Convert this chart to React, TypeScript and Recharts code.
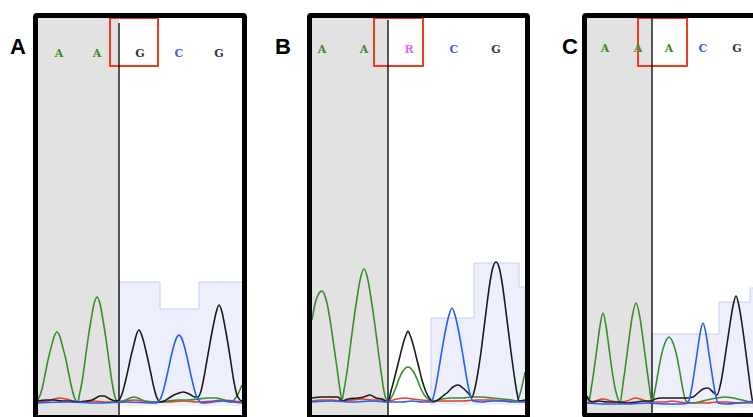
import React from 'react';
import { ComposedChart, Line, Area, Scatter, XAxis, YAxis, ReferenceArea, ReferenceLine } from 'recharts';

// ---------- Panel A ----------
const aBases = ['A', 'A', 'G', 'C', 'G'];
const aBasePos = [21, 59, 102, 141, 181];
const aGreen = [[0,3],[4,14],[7,28],[10,43],[13,55],[16,66],[19,71],[22,66],[25,55],[28,43],[31,28],[34,14],[37,4],[40,1],[41,6],[44,21],[47,42],[50,64],[53,83],[56,99],[59,106],[62,99],[65,83],[68,64],[71,42],[74,21],[77,6],[80,1],[84,2],[88,3],[92,5],[96,6],[100,5],[104,3],[110,1],[120,1],[130,2],[140,3],[150,3],[160,4],[170,5],[178,5],[186,3],[192,1],[196,3],[200,9],[204,18]];
const aBlack = [[0,2],[8,3],[16,3],[24,2],[32,2],[40,1],[48,2],[54,3],[58,5],[62,7],[66,7],[70,5],[74,3],[78,2],[81,3],[84,9],[87,20],[90,33],[93,47],[96,59],[98,67],[101,73],[104,67],[107,56],[110,43],[113,29],[116,15],[119,5],[122,1],[126,2],[131,5],[136,8],[141,10],[145,11],[149,10],[153,8],[157,6],[160,6],[163,12],[166,26],[169,43],[172,60],[175,76],[178,90],[181,98],[184,91],[187,76],[190,59],[193,40],[196,21],[199,8],[202,3],[204,2]];
const aBlue = [[0,0],[30,1],[60,0],[90,1],[118,0],[121,2],[124,8],[127,19],[130,32],[133,46],[136,58],[139,66],[141,68],[143,66],[146,58],[149,46],[152,32],[155,19],[158,8],[161,2],[164,0],[175,1],[185,2],[195,1],[204,0]];
const aRed = [[0,1],[10,2],[16,4],[22,5],[28,4],[36,2],[46,1],[56,2],[66,1],[76,1],[86,2],[96,3],[106,2],[116,1],[130,1],[145,2],[160,1],[175,2],[185,3],[195,2],[204,1]];
const aQual = [[81,-3],[81,121],[122,94],[161,121],[204,121]];

// ---------- Panel B ----------
const bBases = ['A', 'A', 'R', 'C', 'G'];
const bBasePos = [10, 52, 97, 142, 184];
const bGreen = [[0,82],[3,98],[6,107],[10,111],[13,106],[16,94],[19,76],[22,55],[25,34],[28,12],[30,2],[32,12],[35,30],[38,53],[41.5,80],[45,104],[48.5,124],[52,133],[55.5,124],[59,104],[62.5,80],[66,53],[69.5,27],[73,6],[76,1],[79,4],[83,12],[87,23],[91,31],[96,35],[101,31],[105,23],[109,13],[113,6],[118,2],[122,1],[130,3],[140,4],[150,4],[160,5],[170,5],[180,4],[190,3],[200,2],[205,1],[208,8],[213,30]];
const bBlack = [[0,4],[10,5],[20,5],[26,5],[30,1],[36,3],[46,4],[52,5],[58,7],[64,4],[70,3],[76,0],[79,11],[82,22],[85,34],[88,46],[91,58],[94,67],[96,71],[98,67],[101,58],[104,46],[107,34],[110,22],[114,10],[118,3],[121,0],[126,2],[131,6],[136,10],[141,15],[146,17],[151,14],[156,9],[160,5],[163,14],[166,30],[169,50],[172,74],[175,98],[178,120],[181,135],[184,140],[187,135],[190,120],[193,98],[196,74],[199,50],[202,28],[205,9],[207,1],[213,2]];
const bBlue = [[0,0],[20,1],[40,0],[60,1],[76,0],[90,0],[100,1],[110,0],[119,0],[122,7],[125,22],[128,40],[131,58],[134,74],[137,87],[140,94],[143,87],[146,74],[149,58],[152,40],[155,22],[158,8],[161,1],[170,0],[180,1],[190,1],[200,0],[213,0]];
const bRed = [[0,1],[10,2],[20,2],[30,1],[40,2],[50,3],[60,2],[70,2],[76,1],[85,3],[93,4],[100,3],[110,2],[120,1],[135,1],[150,1],[165,2],[180,2],[195,1],[213,1]];
const bQual = [[119,-3],[119,84],[162,139],[207,115],[213,115]];

// ---------- Panel C ----------
const cBases = ['A', 'A', 'A', 'C', 'G'];
const cBasePos = [18, 51, 82, 116, 150];
const cGreen = [[0,6],[2,3],[4,14],[7,34],[10,56],[13,78],[16,91],[19,78],[22,56],[25,34],[28,16],[31,5],[33,1],[36,20],[39,42],[42,65],[45,86],[49,101],[53,86],[56,65],[59,42],[62,20],[65,2],[68,14],[71,31],[74,47],[78,61],[82,67],[86,61],[90,47],[93,31],[96,14],[99,3],[105,1],[112,2],[120,4],[130,6],[138,7],[146,6],[155,4],[165,2],[180,2]];
const cBlack = [[0,8],[3,3],[6,2],[12,3],[20,2],[30,2],[40,1],[50,2],[58,3],[65,3],[68,5],[75,6],[85,6],[95,6],[100,6],[106,7],[111,11],[116,15],[121,16],[126,12],[130,9],[134,22],[137,40],[140,60],[143,80],[146,98],[149,108],[152,98],[155,80],[158,58],[161,35],[164,12],[166,2],[180,1]];
const cBlue = [[0,1],[20,0],[40,0],[60,1],[80,0],[95,0],[101,1],[104,12],[107,30],[110,50],[113,70],[116,81],[119,70],[122,50],[125,30],[128,12],[131,1],[140,0],[150,1],[160,2],[170,3],[180,2]];
const cRed = [[0,1],[8,3],[16,5],[24,3],[32,2],[40,3],[48,6],[56,4],[62,2],[70,2],[78,2],[85,3],[92,2],[100,1],[110,1],[120,1],[130,2],[140,2],[150,1],[160,1],[180,1]];
const cQual = [[65,-4],[65,70],[132,102],[163,116],[180,116]];

const GREEN = '#3d8b2f';
const BLACK = '#1c1c1c';
const BLUE = '#2a5cf0';
const RED = '#e8402a';
const BASE_COLORS: Record<string, string> = { A: '#3f8a2c', G: '#3a3a3a', C: '#3b5ff5', R: '#e46cf2', T: '#e8402a' };

const pts = (a: number[][]) => a.map(([x, y]) => ({ x, y }));

type Cfg = {
  w: number; h: number; yLo: number; yHi: number; cut: number; lineTop: number;
  qual: number[][]; green: number[][]; black: number[][]; blue: number[][]; red: number[][];
  bases: string[]; basePos: number[]; baseY: number; box: [number, number, number, number];
  qBase: number;
};

const panels: { label: string; frame: [number, number, number, number]; cfg: Cfg; labelX: number }[] = [
  {
    label: 'A', labelX: 10, frame: [33, 13, 214, 407],
    cfg: { w: 204, h: 397, yLo: -12, yHi: 385, cut: 81, lineTop: 380, qual: aQual, qBase: -3,
      green: aGreen, black: aBlack, blue: aBlue, red: aRed, bases: aBases, basePos: aBasePos, baseY: 350, box: [72, 120, 337, 385] },
  },
  {
    label: 'B', labelX: 275, frame: [307, 13, 223, 407],
    cfg: { w: 213, h: 397, yLo: -13, yHi: 384, cut: 76, lineTop: 382, qual: bQual, qBase: -3,
      green: bGreen, black: bBlack, blue: bBlue, red: bRed, bases: bBases, basePos: bBasePos, baseY: 353, box: [62, 111, 336, 384] },
  },
  {
    label: 'C', labelX: 562, frame: [582, 13, 190, 405],
    cfg: { w: 180, h: 395, yLo: -9, yHi: 386, cut: 65, lineTop: 386, qual: cQual, qBase: -4,
      green: cGreen, black: cBlack, blue: cBlue, red: cRed, bases: cBases, basePos: cBasePos, baseY: 356, box: [51, 100, 338, 386] },
  },
];

function Panel({ cfg }: { cfg: Cfg }) {
  const letters = cfg.bases.map((b, i) => ({ x: cfg.basePos[i], y: cfg.baseY, b }));
  const traces = [
    { d: cfg.red, c: RED },
    { d: cfg.green, c: GREEN },
    { d: cfg.black, c: BLACK },
    { d: cfg.blue, c: BLUE },
  ];
  return (
    <ComposedChart width={cfg.w} height={cfg.h} margin={{ top: 0, right: 0, bottom: 0, left: 0 }}>
      <XAxis type="number" dataKey="x" domain={[0, cfg.w]} hide allowDataOverflow />
      <YAxis type="number" dataKey="y" domain={[cfg.yLo, cfg.yHi]} hide allowDataOverflow />
      <ReferenceArea x1={0} x2={cfg.cut} y1={cfg.yLo} y2={cfg.yHi} fill="#e2e2e2" fillOpacity={1} stroke="none" />
      <Area data={pts(cfg.qual)} dataKey="y" type="stepAfter" baseValue={cfg.qBase} fill="#edf0fc" fillOpacity={1}
        stroke="#c6cef6" strokeWidth={1} isAnimationActive={false} dot={false} activeDot={false} />
      <ReferenceLine segment={[{ x: cfg.cut, y: cfg.lineTop }, { x: cfg.cut, y: cfg.yLo }]} stroke="#000" strokeWidth={1.3} />
      {traces.map((t, i) => (
        <Line key={i} data={pts(t.d)} dataKey="y" type="monotone" stroke={t.c} strokeWidth={1.6}
          dot={false} activeDot={false} isAnimationActive={false} />
      ))}
      <Scatter data={letters} dataKey="y" isAnimationActive={false}
        shape={(p: any) => (
          <text x={p.cx} y={p.cy} textAnchor="middle" dominantBaseline="central"
            fontFamily="'DejaVu Serif', serif" fontWeight="bold" fontSize={11}
            fill={BASE_COLORS[p.payload.b]}>{p.payload.b}</text>
        )} />
      <ReferenceArea x1={cfg.box[0]} x2={cfg.box[1]} y1={cfg.box[2]} y2={cfg.box[3]} fill="none"
        stroke="#f03c1e" strokeWidth={2} ifOverflow="visible" />
    </ComposedChart>
  );
}

export default function App() {
  return (
    <div style={{ position: 'fixed', left: 0, top: 0, width: 753, height: 417, overflow: 'hidden', background: '#fff' }}>
      {panels.map((p) => (
        <React.Fragment key={p.label}>
          <div style={{ position: 'absolute', left: p.labelX, top: 34, fontFamily: "'Liberation Sans', Arial, sans-serif",
            fontWeight: 'bold', fontSize: 22, lineHeight: '26px', color: '#000' }}>{p.label}</div>
          <div style={{ position: 'absolute', left: p.frame[0], top: p.frame[1], width: p.frame[2], height: p.frame[3],
            border: '5px solid #000', borderRadius: 4, boxSizing: 'border-box', background: '#fff' }} />
          <div style={{ position: 'absolute', left: p.frame[0] + 5, top: p.frame[1] + 5 }}>
            <Panel cfg={p.cfg} />
          </div>
        </React.Fragment>
      ))}
    </div>
  );
}
